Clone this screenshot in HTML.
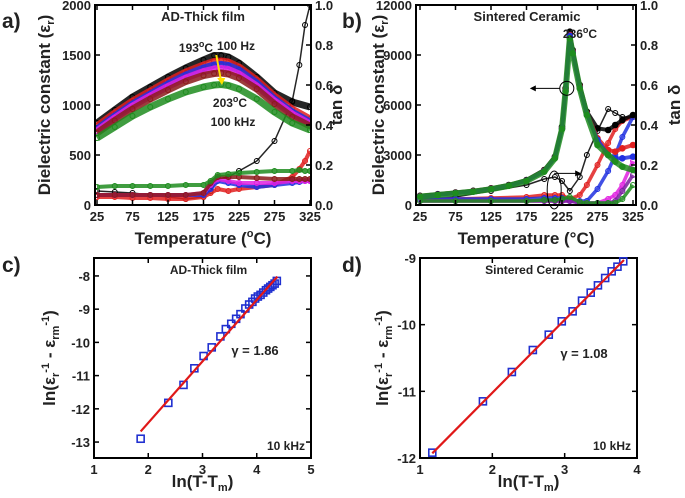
<!DOCTYPE html>
<html><head><meta charset="utf-8">
<style>
body{margin:0;background:#fff;}
svg{display:block;font-family:"Liberation Sans",Arial,sans-serif;font-weight:bold;}
</style></head>
<body>
<svg id="fig" width="685" height="498" viewBox="0 0 685 498" xmlns="http://www.w3.org/2000/svg"></svg>
<script>
// ---------- data ----------
const tempA = [25,50,75,100,125,150,175,190,200,210,225,250,275,300,325];
const epsA_black  = [820,950,1080,1180,1280,1370,1450,1495,1495,1480,1420,1280,1120,1030,980];
const epsA_red    = [790,920,1040,1140,1240,1330,1400,1435,1440,1430,1380,1250,1090,960,860];
const epsA_blue   = [760,890,1010,1110,1210,1300,1370,1400,1405,1395,1350,1220,1060,930,830];
const epsA_mag    = [740,870,990,1090,1185,1270,1335,1360,1365,1355,1310,1190,1040,910,810];
const epsA_brown  = [720,845,960,1060,1150,1235,1295,1315,1320,1310,1270,1160,1010,880,790];
const epsA_green  = [670,780,890,980,1060,1130,1180,1200,1205,1195,1160,1060,930,820,750];
const tanTempA = [25,50,75,100,125,150,175,185,195,210,225,250,275,300,310,318,325];
const tanA_black = [0.07,0.065,0.06,0.05,0.04,0.03,0.04,0.07,0.13,0.14,0.17,0.22,0.32,0.52,0.7,0.9,1.0];
const tanA_red   = [0.04,0.04,0.035,0.035,0.03,0.03,0.04,0.06,0.08,0.07,0.08,0.09,0.10,0.14,0.18,0.22,0.27];
const tanA_blue  = [0.05,0.05,0.05,0.05,0.05,0.05,0.05,0.08,0.12,0.11,0.10,0.09,0.10,0.11,0.115,0.12,0.12];
const tanA_mag   = [0.05,0.05,0.05,0.05,0.05,0.05,0.06,0.10,0.13,0.12,0.11,0.11,0.11,0.12,0.12,0.12,0.12];
const tanA_brown = [0.05,0.05,0.05,0.05,0.05,0.05,0.06,0.11,0.14,0.14,0.14,0.135,0.13,0.13,0.13,0.13,0.13];
const tanA_green = [0.09,0.095,0.095,0.095,0.095,0.1,0.1,0.12,0.15,0.155,0.16,0.165,0.17,0.17,0.175,0.17,0.17];

const tempB = [25,50,75,100,125,150,175,200,215,225,230,236,240,250,260,275,290,300,310,325];
const epsB_black = [550,650,750,850,1000,1200,1500,2100,2900,4700,7000,10400,9300,7200,5600,4600,4500,4800,5100,5400];
const epsB_red   = [520,620,720,820,970,1170,1460,2050,2850,4600,6900,10200,9200,7100,5500,4000,3300,3200,3400,3600];
const epsB_blue  = [510,610,710,810,960,1160,1450,2030,2830,4580,6850,10150,9150,7050,5450,3900,3000,2800,2800,2900];
const epsB_green = [500,600,700,800,950,1150,1440,2000,2800,4550,6800,10000,9100,7000,5400,3600,3000,2600,2300,2100];
const tanTempB = [25,75,125,175,200,215,225,236,250,260,275,290,300,310,325];
const tanB_black = [0.03,0.04,0.07,0.10,0.13,0.14,0.12,0.07,0.14,0.25,0.37,0.48,0.46,0.44,0.44];
const tanB_red   = [0.03,0.03,0.035,0.04,0.05,0.05,0.05,0.03,0.05,0.10,0.20,0.31,0.38,0.42,0.44];
const tanB_blue  = [0.03,0.03,0.03,0.03,0.035,0.035,0.035,0.02,0.02,0.02,0.08,0.17,0.25,0.34,0.44];
const tanB_mag   = [0.02,0.02,0.02,0.02,0.02,0.02,0.02,0.02,0.015,0.01,0.01,0.03,0.05,0.1,0.22];
const tanB_purp  = [0.02,0.02,0.02,0.02,0.02,0.02,0.02,0.02,0.01,0.01,0.01,0.01,0.02,0.07,0.15];
const tanB_green = [0.02,0.02,0.02,0.02,0.025,0.025,0.03,0.04,0.015,0.01,0.01,0.01,0.01,0.03,0.10];

const lnC_x = [1.86,2.37,2.65,2.85,3.02,3.17,3.33,3.43,3.53,3.62,3.70,3.79,3.86,3.92,3.97,4.02,4.07,4.12,4.17,4.21,4.25,4.29,4.33,4.37];
const lnC_y = [-12.9,-11.82,-11.28,-10.78,-10.41,-10.15,-9.82,-9.6,-9.44,-9.29,-9.15,-8.98,-8.86,-8.78,-8.68,-8.62,-8.57,-8.5,-8.43,-8.38,-8.33,-8.28,-8.23,-8.15];
const fitC_x = [1.86,4.38];
const fitC_y = [-12.68,-8.02];
const lnD_x = [1.17,1.87,2.27,2.56,2.78,2.96,3.11,3.24,3.36,3.46,3.56,3.65,3.73,3.81];
const lnD_y = [-11.92,-11.15,-10.71,-10.38,-10.15,-9.95,-9.8,-9.64,-9.52,-9.41,-9.3,-9.2,-9.13,-9.05];
const fitD_x = [1.17,3.82];
const fitD_y = [-11.93,-9.03];

const tempTicks = [25,75,125,175,225,275,325];
const epsTicksA = [0,500,1000,1500,2000];
const epsTicksB = [0,3000,6000,9000,12000];
const tanTicks = [0,0.2,0.4,0.6,0.8,1.0];
const xTicksC = [1,2,3,4,5];
const yTicksC = [-8,-9,-10,-11,-12,-13];
const xTicksD = [1,2,3,4];
const yTicksD = [-9,-10,-11,-12];

// ---------- helpers ----------
const NS = "http://www.w3.org/2000/svg";
const svg = document.getElementById('fig');
function mk(tag, attrs, parent){
  const e = document.createElementNS(NS, tag);
  for (const k in attrs) e.setAttribute(k, attrs[k]);
  (parent||svg).appendChild(e);
  return e;
}
function lin(d0,d1,r0,r1){return v => r0 + (v-d0)/(d1-d0)*(r1-r0);}
function txt(x,y,s,size,opts){
  const t = mk('text',{x:x,y:y,'font-size':size,'text-anchor':(opts&&opts.anchor)||'middle',fill:'#222'});
  if(opts&&opts.rot) t.setAttribute('transform','rotate(-90 '+x+' '+y+')');
  t.innerHTML = s;
  return t;
}
function frame(x0,x1,y0,y1,name){
  const r = mk('rect',{x:x0,y:y0,width:x1-x0,height:y1-y0,fill:'none',stroke:'#000','stroke-width':2});
  
  
}
function xTicks(ticks,sx,y1,y0,fmt){
  ticks.forEach(v=>{
    mk('line',{x1:sx(v),x2:sx(v),y1:y1,y2:y1-5,stroke:'#000','stroke-width':1.5});
    mk('line',{x1:sx(v),x2:sx(v),y1:y0,y2:y0+5,stroke:'#000','stroke-width':1.5});
    const t = txt(sx(v),y1+16,fmt?fmt(v):v,13);
    
    
  });
}
function yTicks(ticks,sy,x,side,fmt){
  ticks.forEach(v=>{
    const dir = side==='left'?1:-1;
    mk('line',{x1:x,x2:x+5*dir,y1:sy(v),y2:sy(v),stroke:'#000','stroke-width':1.5});
    const t = txt(side==='left'?x-4:x+4,sy(v)+5,fmt?fmt(v):v,13,{anchor:side==='left'?'end':'start'});
    
    
  });
}
function series(parent,xs,ys,sx,sy,color,name,opts){
  const pts = xs.map((x,i)=>sx(x)+','+sy(ys[i])).join(' ');
  const g = mk('g',{},parent);
  
  
  const pl = mk('polyline',{points:pts,fill:'none',stroke:color,'stroke-width':opts.w||5,'stroke-linejoin':'round','stroke-opacity':opts.op||0.85},g);
  
  
  xs.forEach((x,i)=>{
    const c = mk('circle',{cx:sx(x),cy:sy(ys[i]),r:opts.r||2.5,fill:opts.fill||'none',stroke:color,'stroke-width':1},g);
    
    
  });
}

// ---------- panel A ----------
(function(){
  const x0=95,x1=311,y0=5,y1=205;
  const sx = lin(25,325,97,310), sy = lin(0,2000,y1,y0), sr = lin(0,1,y1,y0);
  const clip = mk('clipPath',{id:'clipA'}); mk('rect',{x:x0,y:y0,width:x1-x0,height:y1-y0},clip);
  const g = mk('g',{'clip-path':'url(#clipA)'});
  
  
  const tanSets = [[tanA_black,'#000','tan-a-100hz'],[tanA_red,'#e02020','tan-a-1khz'],[tanA_blue,'#2030e0','tan-a-5khz'],[tanA_mag,'#e020e0','tan-a-10khz'],[tanA_brown,'#8b1a1a','tan-a-50khz'],[tanA_green,'#1e8c1e','tan-a-100khz']];
  tanSets.forEach(s=>{ series(g,tanTempA,s[0],sx,sr,s[1],s[2],{w:s[1]==='#000'?1.5:4}); });
  const epsSets = [[epsA_black,'#000','eps-a-100hz'],[epsA_red,'#e02020','eps-a-1khz'],[epsA_blue,'#2030e0','eps-a-5khz'],[epsA_mag,'#e020e0','eps-a-10khz'],[epsA_brown,'#8b1a1a','eps-a-50khz'],[epsA_green,'#1e8c1e','eps-a-100khz']];
  epsSets.forEach(s=>{ series(g,tempA,s[0],sx,sy,s[1],s[2],{w:7}); });
  frame(x0,x1,y0,y1,'panel-a-frame');
  xTicks(tempTicks,sx,y1,y0);
  yTicks(epsTicksA,sy,x0,'left');
  yTicks(tanTicks,sr,x1,'right',v=>v.toFixed(1));
  const ar = mk('line',{x1:sx(193),y1:sy(1500),x2:sx(200),y2:sy(1230),stroke:'#ffe000','stroke-width':2});
   
  mk('polygon',{points:`${sx(200)-4},${sy(1270)} ${sx(200)+4},${sy(1270)} ${sx(201)},${sy(1200)}`,fill:'#ffe000'});
  let t=txt(203,21,'AD-Thick film',13);  
  t=txt(196,52,'193<tspan font-size="9" dy="-5">o</tspan><tspan dy="5">C</tspan>',12);  
  t=txt(236,50,'100 Hz',12);  
  t=txt(230,107,'203<tspan font-size="9" dy="-5">o</tspan><tspan dy="5">C</tspan>',12);  
  t=txt(233,126,'100 kHz',12);  
  t=txt(50,105,'Dielectric constant (ε<tspan font-size="11" dy="4">r</tspan><tspan dy="-4">)</tspan>',17,{rot:1});  
  t=txt(342,105,'tan δ',17,{rot:1});  
  t=txt(203,244,'Temperature (<tspan font-size="11" dy="-7">o</tspan><tspan dy="7">C)</tspan>',17);  
  t=txt(2,28,'a)',21,{anchor:'start'});  
})();

// ---------- panel B ----------
(function(){
  const x0=416,x1=636,y0=5,y1=205;
  const sx = lin(25,325,420,633), sy = lin(0,12000,y1,y0), sr = lin(0,1,y1,y0);
  const clip = mk('clipPath',{id:'clipB'}); mk('rect',{x:x0,y:y0,width:x1-x0,height:y1-y0},clip);
  const g = mk('g',{'clip-path':'url(#clipB)'});
  
  
  const tanSets = [[tanB_black,'#000','tan-b-100hz'],[tanB_red,'#e02020','tan-b-1khz'],[tanB_blue,'#2030e0','tan-b-5khz'],[tanB_mag,'#e020e0','tan-b-10khz'],[tanB_purp,'#7a1fa0','tan-b-50khz'],[tanB_green,'#1e8c1e','tan-b-100khz']];
  tanSets.forEach(s=>{ series(g,tanTempB,s[0],sx,sr,s[1],s[2],{w:s[1]==='#000'?1.5:3.5}); });
  const epsSets = [[epsB_black,'#000','eps-b-100hz'],[epsB_red,'#e02020','eps-b-1khz'],[epsB_blue,'#2030e0','eps-b-5khz'],[epsB_green,'#1e8c1e','eps-b-100khz']];
  epsSets.forEach(s=>{ series(g,tempB,s[0],sx,sy,s[1],s[2],{w:s[2]==='eps-b-100khz'?6:4,fill:s[1],r:2.8}); });
  frame(x0,x1,y0,y1,'panel-b-frame');
  xTicks(tempTicks,sx,y1,y0);
  yTicks(epsTicksB,sy,x0,'left');
  yTicks(tanTicks,sr,x1,'right',v=>v.toFixed(1));
  mk('ellipse',{cx:sx(236)-3,cy:sy(7000),rx:7,ry:7,fill:'none',stroke:'#000','stroke-width':1});
  mk('line',{x1:sx(236)-10,y1:sy(7000),x2:sx(236)-35,y2:sy(7000),stroke:'#000','stroke-width':1});
  mk('polygon',{points:`${sx(236)-40},${sy(7000)} ${sx(236)-34},${sy(7000)-3} ${sx(236)-34},${sy(7000)+3}`,fill:'#000'});
  mk('ellipse',{cx:sx(214),cy:sy(900),rx:7,ry:19,fill:'none',stroke:'#000','stroke-width':1});
  mk('line',{x1:sx(214),y1:sy(1900),x2:sx(214)+22,y2:sy(1900),stroke:'#000','stroke-width':1});
  mk('polygon',{points:`${sx(214)+27},${sy(1900)} ${sx(214)+21},${sy(1900)-3} ${sx(214)+21},${sy(1900)+3}`,fill:'#000'});
  let t=txt(527,21,'Sintered Ceramic',13);  
  t=txt(580,38,'236<tspan font-size="9" dy="-5">o</tspan><tspan dy="5">C</tspan>',12);  
  t=txt(384,105,'Dielectric constant (ε<tspan font-size="11" dy="4">r</tspan><tspan dy="-4">)</tspan>',17,{rot:1});  
  t=txt(680,105,'tan δ',17,{rot:1});  
  t=txt(526,244,'Temperature (°C)',17);  
  t=txt(342,28,'b)',21,{anchor:'start'});  
})();

// ---------- panels C, D ----------
function lnPanel(o){
  const sx = lin(o.xd[0],o.xd[1],o.x0,o.x1), sy = lin(o.yd[0],o.yd[1],o.y1,o.y0);
  frame(o.x0,o.x1,o.y0,o.y1,o.name+'-frame');
  xTicks(o.xt,sx,o.y1,o.y0);
  yTicks(o.yt,sy,o.x0,'left');
  o.yt.forEach(v=>mk('line',{x1:o.x1,x2:o.x1-5,y1:sy(v),y2:sy(v),stroke:'#000','stroke-width':1.5}));
  const g = mk('g',{});
  
  
  o.px.forEach((x,i)=>{
    const r = mk('rect',{x:sx(x)-3.5,y:sy(o.py[i])-3.5,width:7,height:7,fill:'none',stroke:'#2030d0','stroke-width':1.6},g);
    
    
  });
  const l = mk('line',{x1:sx(o.fx[0]),y1:sy(o.fy[0]),x2:sx(o.fx[1]),y2:sy(o.fy[1]),stroke:'#e01818','stroke-width':2.2});
  
  
  let t=txt((o.x0+o.x1)/2+6,o.y0+16,o.title,12);  
  t=txt(o.gx,o.gy,o.gamma,13);  
  t=txt(o.x1-6,o.y1-8,'10 kHz',12,{anchor:'end'});  
  t=txt(o.lx,358,'ln(ε<tspan font-size="11" dy="4">r</tspan><tspan font-size="11" dy="-10">-1</tspan><tspan dy="6"> - ε</tspan><tspan font-size="11" dy="4">rm</tspan><tspan font-size="11" dy="-10">-1</tspan><tspan dy="6">)</tspan>',17,{rot:1});  
  t=txt((o.x0+o.x1)/2,487,'ln(T-T<tspan font-size="11" dy="4">m</tspan><tspan dy="-4">)</tspan>',17);  
  t=txt(o.letterX,272,o.letter,21,{anchor:'start'});  
}
lnPanel({name:'panel-c',x0:94,x1:311,y0:258,y1:458,xd:[1,5],yd:[-13.48,-7.46],xt:xTicksC,yt:yTicksC,px:lnC_x,py:lnC_y,fx:fitC_x,fy:fitC_y,title:'AD-Thick film',gamma:'γ = 1.86',gx:255,gy:355,lx:55,letter:'c)',letterX:2});
lnPanel({name:'panel-d',x0:420,x1:637,y0:258,y1:458,xd:[1,4],yd:[-12,-9],xt:xTicksD,yt:yTicksD,px:lnD_x,py:lnD_y,fx:fitD_x,fy:fitD_y,title:'Sintered Ceramic',gamma:'γ = 1.08',gx:584,gy:358,lx:388,letter:'d)',letterX:342});
</script>
</body></html>
